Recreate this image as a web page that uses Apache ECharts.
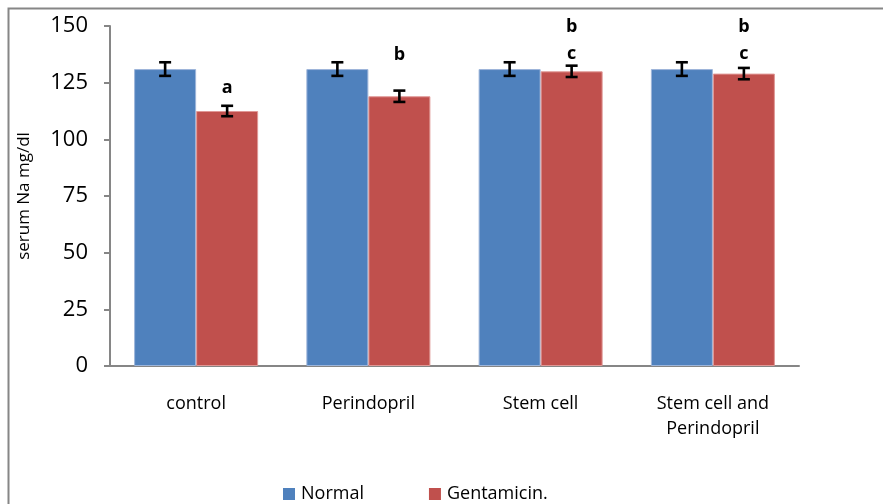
<!DOCTYPE html>
<html>
<head>
<meta charset="utf-8">
<script src="https://cdn.jsdelivr.net/npm/echarts@6/dist/echarts.min.js"></script>
<style>html,body{margin:0;padding:0;background:#fff}#c{width:883px;height:504px}</style>
</head>
<body>
<div id="c"></div>
<script>
var categories = ['control', 'Perindopril', 'Stem cell', 'Stem cell and\nPerindopril'];
var seriesNames = ['Normal', 'Gentamicin.'];
var normalValues = [131, 131, 131, 131];
var normalErrors = [3, 3, 3, 3];
var gentaValues = [112.5, 119, 130, 129];
var gentaErrors = [2.3, 2.5, 2.5, 2.5];
var letters = [['a'], ['b'], ['b', 'c'], ['b', 'c']];
var letterValues = [[122.6], [137.2], [149.6, 137.6], [149.6, 137.6]];
var yTicks = {min: 0, max: 150, interval: 25};

var FONT = 'Open Sans';
var BAND_GAP = 0.28;
var barOffset = (1 - BAND_GAP) / 4;

function errRender(values, errors, sign) {
  return function (params, api) {
    var i = params.dataIndex;
    var band = api.size([1, 0])[0];
    var hi = api.coord([i, values[i] + errors[i]]);
    var lo = api.coord([i, values[i] - errors[i]]);
    var cx = hi[0] + sign * barOffset * band;
    var hw = 6;
    var st = {stroke: '#000', lineWidth: 2.6, fill: null};
    return {type: 'group', children: [
      {type: 'line', shape: {x1: cx, y1: hi[1], x2: cx, y2: lo[1]}, style: st},
      {type: 'line', shape: {x1: cx - hw, y1: hi[1], x2: cx + hw, y2: hi[1]}, style: st},
      {type: 'line', shape: {x1: cx - hw, y1: lo[1], x2: cx + hw, y2: lo[1]}, style: st}
    ]};
  };
}

function letterRender(params, api) {
  var i = params.dataIndex;
  var band = api.size([1, 0])[0];
  var children = [];
  for (var k = 0; k < letters[i].length; k++) {
    var p = api.coord([i, letterValues[i][k]]);
    children.push({type: 'text', x: p[0] + barOffset * band, y: p[1],
      style: {text: letters[i][k], font: 'bold 18px "' + FONT + '"', fill: '#000', align: 'center', verticalAlign: 'middle'}});
  }
  return {type: 'group', children: children};
}

var chart = echarts.init(document.getElementById('c'), null, {renderer: 'canvas'});
chart.setOption({
  animation: false,
  backgroundColor: '#fff',
  graphic: [{type: 'rect', shape: {x: 8.5, y: 8.5, width: 1000, height: 1000},
    style: {fill: 'none', stroke: '#868686', lineWidth: 2}, silent: true}],
  grid: {left: 110, right: 84, top: 26, bottom: 138},
  legend: {
    data: seriesNames, left: 278, top: 480, itemWidth: 12, itemHeight: 12, itemGap: 65,
    icon: 'rect', itemStyle: {borderWidth: 0},
    textStyle: {fontFamily: FONT, fontSize: 18, color: '#000', padding: [0, 0, 0, 1]}
  },
  xAxis: {
    type: 'category', data: categories,
    axisLine: {lineStyle: {color: '#868686', width: 2}},
    axisTick: {show: false},
    axisLabel: {fontFamily: FONT, fontSize: 18, color: '#000', margin: 25, lineHeight: 25, interval: 0}
  },
  yAxis: {
    type: 'value', min: yTicks.min, max: yTicks.max, interval: yTicks.interval,
    name: 'serum Na mg/dl', nameLocation: 'middle', nameRotate: 90, nameGap: 77,
    nameTextStyle: {fontFamily: FONT, fontSize: 17, color: '#000'},
    axisLine: {show: true, lineStyle: {color: '#868686', width: 2}},
    axisTick: {show: true, length: 6, lineStyle: {color: '#868686', width: 2}},
    splitLine: {show: false},
    axisLabel: {fontFamily: FONT, fontSize: 22, color: '#000', margin: 22}
  },
  series: [
    {name: seriesNames[0], type: 'bar', data: normalValues, barGap: '0%', barCategoryGap: (BAND_GAP * 100) + '%',
      itemStyle: {color: '#4F81BD', borderColor: '#9DB5DA', borderWidth: 1}},
    {name: seriesNames[1], type: 'bar', data: gentaValues, barGap: '0%', barCategoryGap: (BAND_GAP * 100) + '%',
      itemStyle: {color: '#C0504D', borderColor: '#E09896', borderWidth: 1}},
    {type: 'custom', data: normalValues.map(function (v, i) { return [i, v]; }),
      renderItem: errRender(normalValues, normalErrors, -1), z: 5, silent: true},
    {type: 'custom', data: gentaValues.map(function (v, i) { return [i, v]; }),
      renderItem: errRender(gentaValues, gentaErrors, 1), z: 5, silent: true},
    {type: 'custom', data: gentaValues.map(function (v, i) { return [i, v]; }),
      renderItem: letterRender, z: 6, silent: true, clip: false}
  ]
});
</script>
</body>
</html>
